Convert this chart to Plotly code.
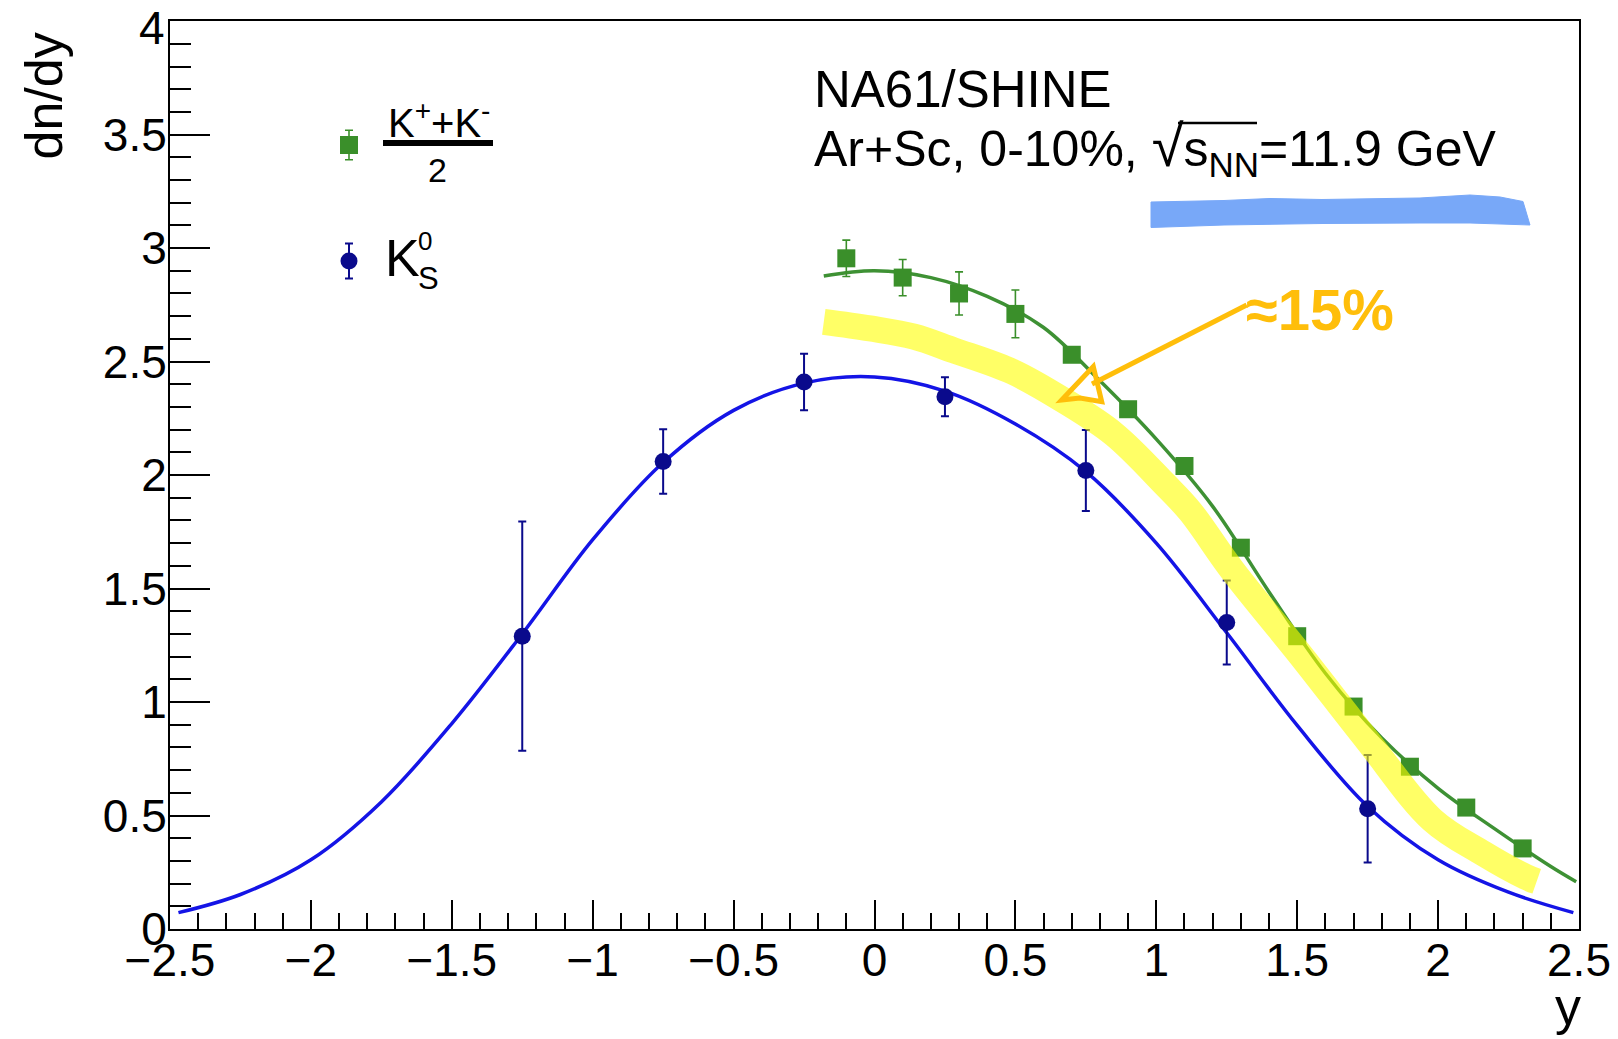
import plotly.graph_objects as go

# ---------------- data ----------------
# K0S data points
k0s_y = [-1.25, -0.75, -0.25, 0.25, 0.75, 1.25, 1.75]
k0s_dndy = [1.29, 2.06, 2.41, 2.345, 2.02, 1.35, 0.53]
k0s_err = [0.505, 0.142, 0.125, 0.086, 0.178, 0.185, 0.237]

# (K+ + K-)/2 data points
kch_y = [-0.1, 0.1, 0.3, 0.5, 0.7, 0.9, 1.1, 1.3, 1.5, 1.7, 1.9, 2.1, 2.3]
kch_dndy = [2.955, 2.87, 2.80, 2.71, 2.53, 2.29, 2.04, 1.68, 1.29, 0.98, 0.715, 0.535, 0.355]
kch_err = [0.08, 0.08, 0.095, 0.105, 0.03, 0.03, 0.03, 0.03, 0.025, 0.02, 0.02, 0.015, 0.01]

# fitted curves
k0s_fit_y = [-2.47, -2.25, -2.0, -1.75, -1.5, -1.25, -1.0, -0.75, -0.5, -0.25, 0.0,
             0.25, 0.5, 0.75, 1.0, 1.25, 1.5, 1.75, 2.0, 2.25, 2.48]
k0s_fit = [0.072, 0.152, 0.305, 0.56, 0.905, 1.30, 1.715, 2.055, 2.285, 2.405, 2.432,
           2.37, 2.225, 2.015, 1.70, 1.305, 0.897, 0.54, 0.305, 0.162, 0.072]

kch_fit_y = [-0.18, 0.0, 0.2, 0.4, 0.6, 0.8, 1.0, 1.2, 1.4, 1.6, 1.8, 2.0, 2.2, 2.4, 2.49]
kch_fit = [2.877, 2.90, 2.87, 2.787, 2.65, 2.415, 2.158, 1.862, 1.485, 1.127, 0.842, 0.62,
           0.442, 0.275, 0.208]

# hand-drawn yellow highlighter band
hl_y = [-0.18, -0.016, 0.14, 0.28, 0.49, 0.67, 0.85, 1.03, 1.12, 1.27, 1.51, 1.75, 1.98, 2.16, 2.31, 2.35]
hl_v = [2.675, 2.646, 2.61, 2.55, 2.455, 2.33, 2.18, 1.96, 1.84, 1.58, 1.21, 0.83, 0.48, 0.333, 0.23, 0.21]

# y-axis tick labels (top one drawn separately, slightly below the frame edge as in the reference)
y_tickvals = [0, 0.5, 1, 1.5, 2, 2.5, 3, 3.5, 4]
y_ticktext = ["0", "0.5", "1", "1.5", "2", "2.5", "3", "3.5", ""]
y_top_label = "4"

# texts
legend_kch_num = "K<sup>+</sup>+K<sup>-</sup>"
legend_kch_den = "2"
legend_k0s = "K"
title_1 = "NA61/SHINE"
title_2 = "Ar+Sc, 0-10%, <span style=\"font-size:58px\">√</span>s<sub>NN</sub>=11.9 GeV"
note_text = "≈15%"

# ---------------- styling ----------------
FONT = "Liberation Sans, Arial, Helvetica, sans-serif"
GREEN = "#3a8f2a"
GREEN_LINE = "#3e9134"
NAVY = "#0a0a8c"
BLUE_LINE = "#1414e6"
ORANGE = "#ffbe0a"
W, H = 1618, 1039
L, R, T, B = 170, 1579, 21, 929


def px(xp):
    return (xp - L) / (R - L)


def py(yp):
    return 1 - (yp - T) / (B - T)


def path(points, close=False):
    s = "M " + " L ".join(f"{px(a):.5f},{py(b):.5f}" for a, b in points)
    return s + (" Z" if close else "")


fig = go.Figure()

fig.add_trace(go.Scatter(x=k0s_fit_y, y=k0s_fit, mode="lines",
                         line=dict(color=BLUE_LINE, width=3.5, shape="spline", smoothing=1.0),
                         hoverinfo="skip"))
fig.add_trace(go.Scatter(x=kch_fit_y, y=kch_fit, mode="lines",
                         line=dict(color=GREEN_LINE, width=3.5, shape="spline", smoothing=1.0),
                         hoverinfo="skip"))
fig.add_trace(go.Scatter(x=k0s_y, y=k0s_dndy, mode="markers",
                         marker=dict(symbol="circle", size=17, color=NAVY),
                         error_y=dict(type="data", array=k0s_err, color=NAVY, thickness=2, width=4)))
fig.add_trace(go.Scatter(x=kch_y, y=kch_dndy, mode="markers",
                         marker=dict(symbol="square", size=18, color=GREEN),
                         error_y=dict(type="data", array=kch_err, color=GREEN, thickness=1.6, width=4)))
fig.add_trace(go.Scatter(x=hl_y, y=hl_v, mode="lines",
                         line=dict(color="rgba(255,255,0,0.6)", width=26, shape="spline"),
                         hoverinfo="skip"))

# legend keys (on an overlay axis spanning the plot area 0..1)
fig.add_trace(go.Scatter(x=[px(349)], y=[py(145)], xaxis="x2", yaxis="y2", mode="markers",
                         marker=dict(symbol="square", size=18, color=GREEN),
                         error_y=dict(type="data", array=[14.7 / (B - T)], color=GREEN,
                                      thickness=1.6, width=4)))
fig.add_trace(go.Scatter(x=[px(349)], y=[py(261)], xaxis="x2", yaxis="y2", mode="markers",
                         marker=dict(symbol="circle", size=17, color=NAVY),
                         error_y=dict(type="data", array=[17.5 / (B - T)], color=NAVY,
                                      thickness=2, width=4)))

axis_common = dict(showgrid=False, zeroline=False, showline=True, linecolor="black",
                   linewidth=2, mirror=True, ticks="inside", tickwidth=2, tickcolor="black",
                   ticklabeloverflow="allow", automargin=False,
                   tickfont=dict(size=46, family=FONT, color="black"))

fig.update_layout(
    width=W, height=H, autosize=False,
    margin=dict(l=L, r=W - R, t=T, b=H - B, pad=0, autoexpand=False),
    paper_bgcolor="white", plot_bgcolor="white",
    showlegend=False,
    font=dict(family=FONT, color="black"),
    xaxis=dict(range=[-2.5, 2.5], dtick=0.5, tick0=0, ticklen=29, ticklabelstandoff=-10,
               minor=dict(dtick=0.1, tick0=0, ticklen=16, tickwidth=2, tickcolor="black",
                          ticks="inside", showgrid=False),
               **axis_common),
    yaxis=dict(range=[0, 4.0005], tickmode="array", tickvals=y_tickvals, ticktext=y_ticktext,
               ticklen=40, ticklabelstandoff=-8,
               minor=dict(dtick=0.1, tick0=0, ticklen=21, tickwidth=2, tickcolor="black",
                          ticks="inside", showgrid=False),
               **axis_common),
    xaxis2=dict(overlaying="x", anchor="y2", range=[0, 1], visible=False, fixedrange=True,
                automargin=False),
    yaxis2=dict(overlaying="y", anchor="x2", range=[0, 1], visible=False, fixedrange=True,
                automargin=False),
)

ann = []


def A(text, x, y, xa, ya, size, color="black", angle=0, bold=False):
    ann.append(dict(text=text, x=x, y=y, xref="paper", yref="paper", xanchor=xa, yanchor=ya,
                    showarrow=False, textangle=angle,
                    font=dict(family=FONT, size=size, color=color,
                              weight="bold" if bold else "normal")))


A(y_top_label, px(167), py(28), "right", "middle", 46)
A(title_1, px(812), py(59), "left", "top", 51)
A(title_2, px(812), py(111), "left", "top", 50)
A(legend_kch_num, px(438.5), py(146.5), "center", "bottom", 40)
A(legend_kch_den, px(437), py(149), "center", "top", 34)
A(legend_k0s, px(383), py(227), "left", "top", 52)
A("0", px(416), py(224), "left", "top", 26)
A("S", px(416), py(259), "left", "top", 31)
A("dn/dy", px(44), py(31), "center", "top", 52, angle=-90)
A("y", px(1583), py(975), "right", "top", 52)
A(note_text, px(1244), py(309), "left", "middle", 58, color=ORANGE, bold=True)

shapes = [
    # fraction bar in legend
    dict(type="line", xref="paper", yref="paper", x0=px(383), x1=px(493), y0=py(143), y1=py(143),
         line=dict(color="black", width=6)),
    # overline of the square root
    dict(type="line", xref="paper", yref="paper", x0=px(1178), x1=px(1257), y0=py(123), y1=py(123),
         line=dict(color="black", width=2.5)),
    # blue scribble bar
    dict(type="path", xref="paper", yref="paper",
         path=path([(1151, 202), (1224, 200.5), (1270, 198.5), (1322, 199.5), (1420, 198),
                    (1470, 195), (1500, 197), (1523, 201.5), (1530, 225), (1470, 223),
                    (1420, 223), (1322, 223.5), (1224, 225), (1151, 227.5)], close=True),
         fillcolor="#78a8f8", line=dict(color="#78a8f8", width=1)),
    # orange arrow shaft
    dict(type="path", xref="paper", yref="paper",
         path=path([(1246.7, 305), (1092, 384)]),
         line=dict(color=ORANGE, width=5)),
    # orange arrow head (hand-drawn triangle)
    dict(type="path", xref="paper", yref="paper",
         path=path([(1061.7, 400), (1093.3, 366.5), (1101.7, 401.7), (1080, 398)], close=True),
         line=dict(color=ORANGE, width=5)),
]

fig.update_layout(annotations=ann, shapes=shapes)
fig.write_html("out.html")
